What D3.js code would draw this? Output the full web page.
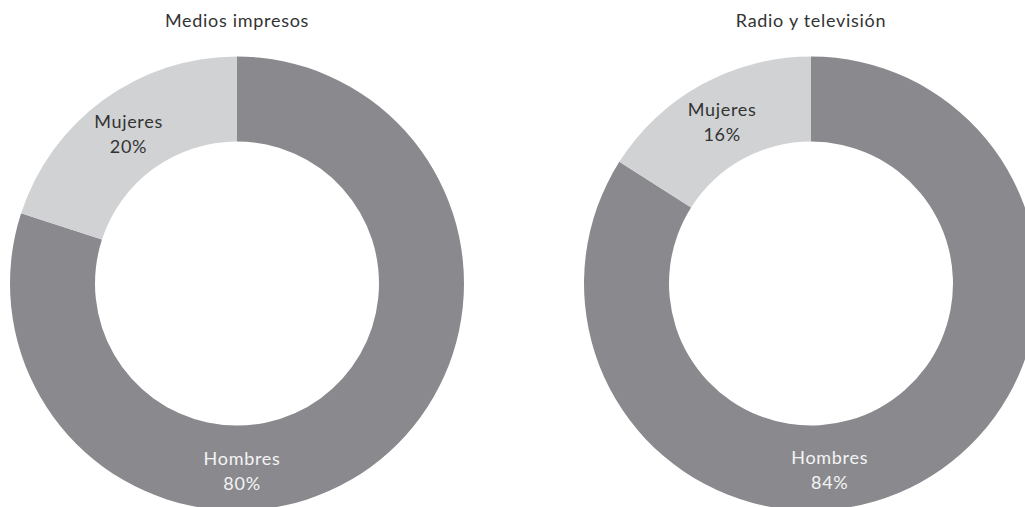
<!DOCTYPE html>
<html><head><meta charset="utf-8">
<script src="https://cdn.jsdelivr.net/npm/d3@7"></script>
<style>
html,body{margin:0;padding:0;background:#fff;overflow:hidden;}
svg{display:block;font-family:Lato,"Open Sans",sans-serif;}
</style></head>
<body>
<svg id="c" width="1025" height="507"></svg>
<script>
const titles = ["Medios impresos", "Radio y televisión"];
const categories = ["Hombres", "Mujeres"];
const mediosValues = [80, 20];
const radioValues = [84, 16];
const seriesValues = [mediosValues, radioValues];

const W = 1025, H = 507;
const colors = {Hombres: "#8a8a8e", Mujeres: "#d1d2d4"};
const textColors = {Hombres: "#f4f4f4", Mujeres: "#333333"};
const svg = d3.select("#c");

const panelX = d3.scalePoint().domain(titles).range([237, 811]);
const cy = 283.5, R = 227, r = 142;

const pie = d3.pie().sort(null).value(d => d.value);
const arc = d3.arc().innerRadius(r).outerRadius(R);
const fontSize = 18, spacing = 0.7, weight = 400;

titles.forEach((t, i) => {
  const cx = panelX(t);
  const g = svg.append("g").attr("transform", `translate(${cx},${cy})`);
  const data = categories.map((c, j) => ({cat: c, value: seriesValues[i][j]}));
  const arcs = pie(data);
  g.selectAll("path").data(arcs).join("path")
    .attr("d", arc).attr("fill", d => colors[d.data.cat]);

  svg.append("text").attr("x", cx).attr("y", 27)
    .attr("text-anchor", "middle").attr("font-size", fontSize)
    .attr("font-weight", weight).attr("letter-spacing", spacing).attr("fill", "#333")
    .text(t);

  arcs.forEach(a => {
    let pos;
    if (a.data.cat === "Hombres") {
      const ang = Math.PI - (i === 0 ? 0.027 : 0.1);
      const lr = (R + r) / 2 + 3;
      pos = [lr * Math.sin(ang), -lr * Math.cos(ang)];
    } else {
      pos = arc.centroid(a);
    }
    const tx = g.append("text").attr("text-anchor", "middle")
      .attr("font-size", fontSize).attr("font-weight", weight)
      .attr("letter-spacing", spacing).attr("fill", textColors[a.data.cat]);
    tx.append("tspan").attr("x", pos[0]).attr("y", pos[1] - 6).text(a.data.cat);
    tx.append("tspan").attr("x", pos[0]).attr("y", pos[1] + 19).text(a.data.value + "%");
  });
});
</script>
</body></html>
